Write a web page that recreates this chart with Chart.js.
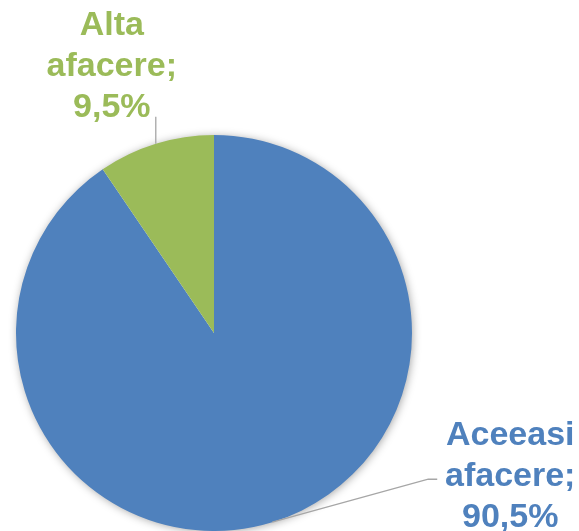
<!DOCTYPE html>
<html>
<head>
<meta charset="utf-8">
<script src="https://cdn.jsdelivr.net/npm/chart.js@4"></script>
<style>
  html, body { margin: 0; padding: 0; background: #fff; }
  #wrap { width: 579px; height: 531px; position: relative; }
</style>
</head>
<body>
<div id="wrap"><canvas id="pie"></canvas></div>
<script>
const categories = ['Aceeasi afacere', 'Alta afacere'];
const shares = [90.5, 9.5];
const sliceColors = ['#4F81BD', '#9BBB59'];

const fontFamily = '"Liberation Sans", Arial, sans-serif';

// where each label sits relative to the mid point of its slice edge
const labelLayout = [
  { elbow: [156, -43], tail: 9, textDx: 82, lineGap: 41, baseDy: -34 },
  { elbow: [0, -27], tail: 0, textDx: -44, lineGap: 41, baseDy: -82 }
];

const pieShadow = {
  id: 'pieShadow',
  beforeDatasetsDraw(chart) {
    const arc = chart.getDatasetMeta(0).data[0];
    if (!arc) return;
    const ctx = chart.ctx;
    ctx.save();
    ctx.shadowColor = 'rgba(0,0,0,0.4)';
    ctx.shadowBlur = 10;
    ctx.shadowOffsetX = 1;
    ctx.shadowOffsetY = 1;
    ctx.fillStyle = '#ffffff';
    ctx.beginPath();
    ctx.arc(arc.x, arc.y, arc.outerRadius - 1, 0, Math.PI * 2);
    ctx.fill();
    ctx.restore();
  }
};

const sliceLabels = {
  id: 'sliceLabels',
  afterDatasetsDraw(chart) {
    const ctx = chart.ctx;
    const meta = chart.getDatasetMeta(0);
    meta.data.forEach((arc, i) => {
      const mid = (arc.startAngle + arc.endAngle) / 2;
      const ax = arc.x + Math.cos(mid) * arc.outerRadius;
      const ay = arc.y + Math.sin(mid) * arc.outerRadius;
      const lay = labelLayout[i];
      const ex = ax + lay.elbow[0];
      const ey = ay + lay.elbow[1];

      ctx.save();
      ctx.strokeStyle = '#A6A6A6';
      ctx.lineWidth = 1.3;
      ctx.beginPath();
      ctx.moveTo(ax, ay);
      ctx.lineTo(ex, ey);
      if (lay.tail) ctx.lineTo(ex + lay.tail, ey);
      ctx.stroke();

      const name = categories[i].split(' ');
      const pct = shares[i].toFixed(1).replace('.', ',') + '%';
      const lines = [name[0], name[1] + ';', pct];
      ctx.fillStyle = sliceColors[i];
      ctx.font = 'bold 34px ' + fontFamily;
      ctx.textAlign = 'center';
      ctx.textBaseline = 'alphabetic';
      const cx = ex + lay.textDx;
      const firstBase = ey + lay.baseDy;
      lines.forEach((t, k) => {
        ctx.fillText(t, cx, firstBase + k * lay.lineGap);
      });
      ctx.restore();
    });
  }
};

new Chart(document.getElementById('pie').getContext('2d'), {
  type: 'pie',
  data: {
    labels: categories,
    datasets: [{
      data: shares,
      backgroundColor: sliceColors,
      borderWidth: 0
    }]
  },
  options: {
    responsive: true,
    maintainAspectRatio: false,
    animation: false,
    layout: {
      padding: { left: 16, right: 167, top: 135, bottom: 0 }
    },
    plugins: {
      legend: { display: false },
      tooltip: { enabled: false },
      title: { display: false }
    }
  },
  plugins: [pieShadow, sliceLabels]
});
</script>
</body>
</html>
